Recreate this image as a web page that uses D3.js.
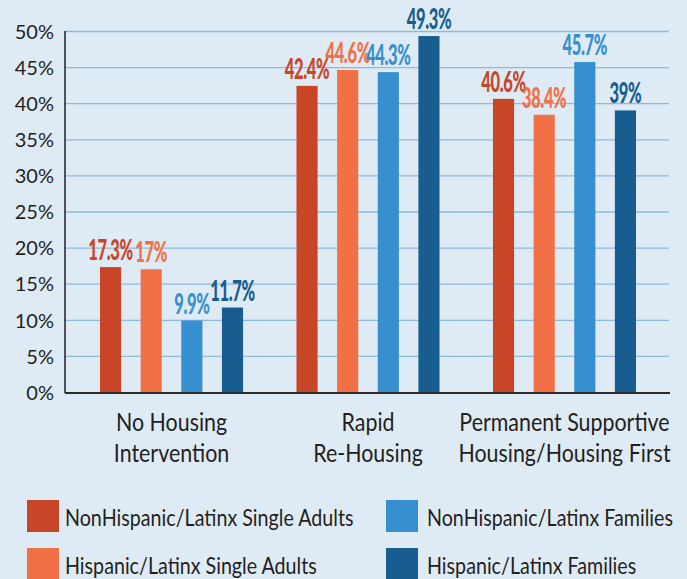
<!DOCTYPE html>
<html>
<head>
<meta charset="utf-8">
<script src="https://cdn.jsdelivr.net/npm/d3@7"></script>
<style>
  html, body { margin: 0; padding: 0; background: #dfebf4; overflow: hidden; }
  svg { display: block; }
</style>
</head>
<body>
<script>
// chart data
var categoryLines = [["No Housing", "Intervention"], ["Rapid", "Re-Housing"], ["Permanent Supportive", "Housing/Housing First"]];
var seriesNames = ["NonHispanic/Latinx Single Adults", "Hispanic/Latinx Single Adults", "NonHispanic/Latinx Families", "Hispanic/Latinx Families"];
var nonHispanicSingle = [17.3, 42.4, 40.6];
var hispanicSingle = [17, 44.6, 38.4];
var nonHispanicFamilies = [9.9, 44.3, 45.7];
var hispanicFamilies = [11.7, 49.3, 39];
var yTicks = [0, 5, 10, 15, 20, 25, 30, 35, 40, 45, 50];

var seriesValues = [nonHispanicSingle, hispanicSingle, nonHispanicFamilies, hispanicFamilies];
var colors = ["#c94528", "#f27046", "#3690d0", "#175d8f"];

var width = 687, height = 579;
var plotLeft = 65, plotRight = 670, plotTop = 31, plotBottom = 392;
var textFont = "Lato, 'Open Sans', sans-serif";

var svg = d3.select("body").append("svg")
    .attr("width", width)
    .attr("height", height);

svg.append("rect").attr("width", width).attr("height", height).attr("fill", "#dfebf4");

var y = d3.scaleLinear().domain([0, 50]).range([plotBottom, plotTop]);

var x0 = d3.scaleBand()
    .domain(d3.range(categoryLines.length))
    .range([plotLeft + 1, plotRight])
    .paddingInner(0.272)
    .paddingOuter(0.173);

var x1 = d3.scaleBand()
    .domain(d3.range(seriesNames.length))
    .range([0, x0.bandwidth()])
    .paddingInner(0.48);

// gridlines
svg.append("g").selectAll("line")
    .data(yTicks.filter(function(d) { return d > 0; }))
    .enter().append("line")
    .attr("x1", plotLeft).attr("x2", plotRight - 1)
    .attr("y1", function(d) { return y(d) + 0.5; })
    .attr("y2", function(d) { return y(d) + 0.5; })
    .attr("stroke", "#8db9dc")
    .attr("stroke-width", 1.3);

// y axis labels
var yAxis = d3.axisLeft(y).tickValues(yTicks).tickSize(0).tickPadding(11)
    .tickFormat(function(d) { return d + "%"; });
var ya = svg.append("g").attr("transform", "translate(" + plotLeft + ",0)").call(yAxis);
ya.select(".domain").remove();
ya.selectAll("text")
    .attr("font-family", textFont)
    .attr("font-size", 20)
    .attr("fill", "#231f20")
    .attr("dy", "0.36em");

// bars
var groups = svg.append("g").selectAll("g")
    .data(categoryLines)
    .enter().append("g")
    .attr("transform", function(d, i) { return "translate(" + x0(i) + ",0)"; });

groups.each(function(c, ci) {
    var g = d3.select(this);
    seriesValues.forEach(function(vals, si) {
        g.append("rect")
            .attr("x", x1(si))
            .attr("width", x1.bandwidth())
            .attr("y", y(vals[ci]))
            .attr("height", plotBottom - y(vals[ci]))
            .attr("fill", colors[si]);
        g.append("text")
            .attr("transform", "translate(" + (x1(si) + x1.bandwidth() / 2) + "," + (y(vals[ci]) - 7) + ") scale(0.6,1)")
            .attr("text-anchor", "middle")
            .attr("font-family", textFont)
            .attr("font-weight", 900)
            .attr("font-size", 27.5)
            .attr("letter-spacing", -0.6)
            .attr("fill", colors[si])
            .text(vals[ci] + "%");
    });
    g.append("text")
        .attr("transform", "translate(" + (x0.bandwidth() / 2) + ",431) scale(0.84,1)")
        .attr("text-anchor", "middle")
        .attr("font-family", textFont)
        .attr("font-size", 25.5)
        .attr("fill", "#231f20")
        .selectAll("tspan")
        .data(c)
        .enter().append("tspan")
        .attr("x", 0)
        .attr("dy", function(d, i) { return i === 0 ? 0 : 31; })
        .text(function(d) { return d; });
});

// axes lines
svg.append("line")
    .attr("x1", plotLeft).attr("x2", plotLeft)
    .attr("y1", plotTop).attr("y2", plotBottom + 1)
    .attr("stroke", "#231f20").attr("stroke-width", 1.5);
svg.append("line")
    .attr("x1", plotLeft).attr("x2", plotRight)
    .attr("y1", plotBottom + 1).attr("y2", plotBottom + 1)
    .attr("stroke", "#2b2b2b").attr("stroke-width", 2);

// legend
var legend = svg.append("g").selectAll("g")
    .data(seriesNames)
    .enter().append("g")
    .attr("transform", function(d, i) {
        var col = Math.floor(i / 2), row = i % 2;
        return "translate(" + (col === 0 ? 27 : 386) + "," + (500 + row * 48) + ")";
    });
legend.append("rect")
    .attr("width", 32).attr("height", 32)
    .attr("fill", function(d, i) { return colors[i]; });
legend.append("text")
    .attr("transform", function(d, i) { return "translate(" + (i < 2 ? 38 : 41) + ",26) scale(0.82,1)"; })
    .attr("font-family", textFont)
    .attr("font-size", 24)
    .attr("fill", "#231f20")
    .text(function(d) { return d; });
</script>
</body>
</html>
